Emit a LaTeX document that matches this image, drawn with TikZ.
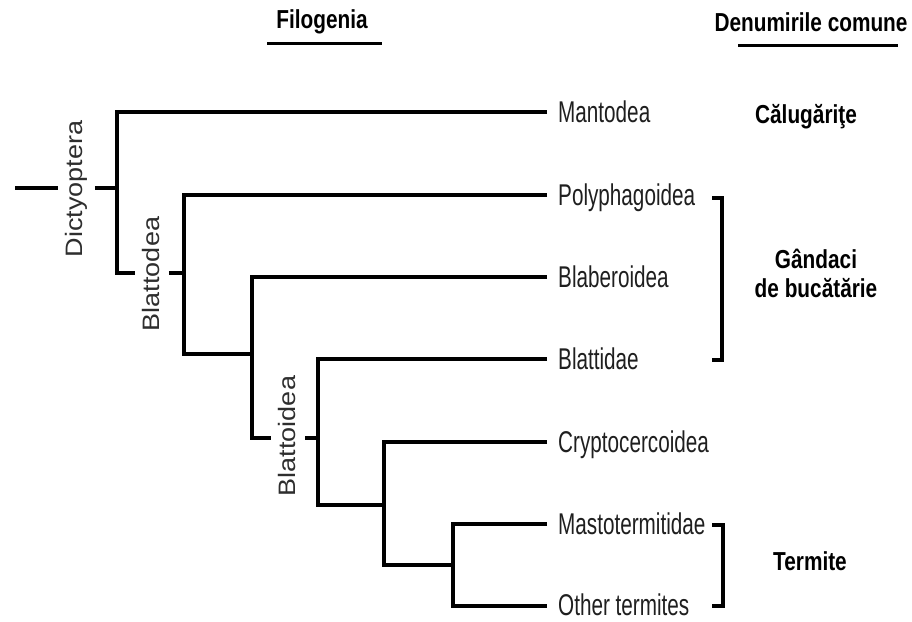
\documentclass[tikz,border=0pt]{standalone}
\usepackage{fontspec}
\setmainfont{Liberation Sans}
\newfontfamily\leaffont[FakeStretch=0.69]{Liberation Sans}
\newfontfamily\hdrfont[FakeStretch=0.8]{Liberation Sans}
\newcommand{\cladetxt}[1]{\rotatebox{90}{\scalebox{1}[0.88]{\rule[-0.1em]{0pt}{0.7em}#1}}}
\begin{document}
\begin{tikzpicture}[x=1pt,y=-1pt,
  branch/.style={line width=3.1pt, line join=miter},
  leaf/.style={anchor=base west, inner sep=0pt, font=\leaffont\fontsize{30}{33}\selectfont, text=black!88},
  clade/.style={anchor=center, inner xsep=7pt, inner ysep=0pt, font=\fontsize{27}{30}\selectfont, text=black!82},
  hdr/.style={anchor=base, inner sep=0pt, font=\hdrfont\bfseries\fontsize{26}{28}\selectfont},
  common/.style={anchor=base, inner sep=0pt, align=center, font=\hdrfont\bfseries\fontsize{26}{29}\selectfont}]
\useasboundingbox[fill=white] (0,0) rectangle (912,621);
% tree nodes
\coordinate (root) at (15,188);
\coordinate (n1) at (117,188);
\coordinate (n2) at (184,273);
\coordinate (n3) at (252,354);
\coordinate (n4) at (318,438);
\coordinate (n5) at (384,505);
\coordinate (n6) at (453,565);
% leaf ends
\coordinate (e1) at (547,112);
\coordinate (e2) at (547,195);
\coordinate (e3) at (547,277);
\coordinate (e4) at (547,359);
\coordinate (e5) at (547,442);
\coordinate (e6) at (547,524);
\coordinate (e7) at (547,606);
% leaf labels
\node[leaf] (mant) at (558,122.5) {Mantodea};
\node[leaf] (poly) at (558,205.5) {Polyphagoidea};
\node[leaf] (blab) at (558,287.5) {Blaberoidea};
\node[leaf] (blatt) at (558,369.5) {Blattidae};
\node[leaf] (cryp) at (558,452.5) {Cryptocercoidea};
\node[leaf] (mast) at (558,534.5) {Mastotermitidae};
\node[leaf] (other) at (558,615) {Other termites};
% clade labels
\node[clade] (dict) at (76.5,189) {\cladetxt{Dictyoptera}};
\node[clade] (blattodea) at (152,274) {\cladetxt{Blattodea}};
\node[clade] (blattoidea) at (288,436) {\cladetxt{Blattoidea}};
% branches
\draw[branch] (root) -- (root -| dict.west);
\draw[branch] (n1 -| dict.east) -- (n1);
\draw[branch] (e1) -| (n1) -- (n1 |- n2) -- (n2 -| blattodea.west);
\draw[branch] (n2 -| blattodea.east) -- (n2);
\draw[branch] (e2) -| (n2) -- (n2 |- n3) -- (n3);
\draw[branch] (e3) -| (n3) -- (n3 |- n4) -- (n4 -| blattoidea.west);
\draw[branch] (n4 -| blattoidea.east) -- (n4);
\draw[branch] (e4) -| (n4) -- (n4 |- n5) -- (n5);
\draw[branch] (e5) -| (n5) -- (n5 |- n6) -- (n6);
\draw[branch] (e6) -| (n6) |- (e7);
% headers
\node[hdr] (filo) at (322,28) {Filogenia};
\node[hdr] (denum) at (811,31) {Denumirile comune};
\coordinate (fu1) at (267,43);
\coordinate (fu2) at (382,43);
\coordinate (du1) at (738,45);
\coordinate (du2) at (898,45);
\draw[line width=3pt] (fu1) -- (fu2);
\draw[line width=3pt] (du1) -- (du2);
% common names
\node[common] (cal) at (806,123) {Călugăriţe};
\node[common] (gand) at (816,297.5) {Gândaci\\de bucătărie};
\node[common] (term) at (810,570) {Termite};
% brackets
\coordinate (b1a) at (712,198);
\coordinate (b1b) at (722,198);
\coordinate (b1c) at (722,360);
\coordinate (b1d) at (712,360);
\draw[branch] (b1a) -- (b1b) -- (b1c) -- (b1d);
\coordinate (b2a) at (712,525);
\coordinate (b2b) at (723,525);
\coordinate (b2c) at (723,606);
\coordinate (b2d) at (712,606);
\draw[branch] (b2a) -- (b2b) -- (b2c) -- (b2d);
\end{tikzpicture}
\end{document}
